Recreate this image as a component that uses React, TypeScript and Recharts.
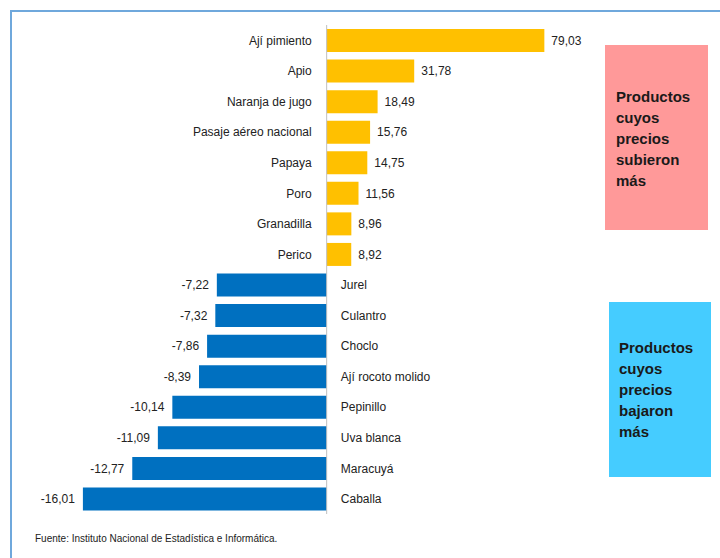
import { BarChart, Bar, XAxis, YAxis, LabelList, ReferenceLine } from 'recharts';

const categories = [
  'Ají pimiento', 'Apio', 'Naranja de jugo', 'Pasaje aéreo nacional', 'Papaya', 'Poro',
  'Granadilla', 'Perico', 'Jurel', 'Culantro', 'Choclo', 'Ají rocoto molido',
  'Pepinillo', 'Uva blanca', 'Maracuyá', 'Caballa',
];
const variations = [
  79.03, 31.78, 18.49, 15.76, 14.75, 11.56, 8.96, 8.92,
  -7.22, -7.32, -7.86, -8.39, -10.14, -11.09, -12.77, -16.01,
];
// the rises and falls sit on two separate scales, as in the source
const upDomain = [-118.6, 142.8];
const downDomain = [-21.45, 25.8];

const data = categories.map((name, i) => ({
  name,
  up: variations[i] > 0 ? variations[i] : null,
  down: variations[i] < 0 ? variations[i] : null,
}));

const NARROW = '"Liberation Sans Narrow", "Arial Narrow", "Liberation Sans", sans-serif';
const fmt = (v: number) => v.toFixed(2).replace('.', ',');

function makeLabel(sign: 1 | -1) {
  return (props: any) => {
    const name = props.value as string;
    const v = variations[categories.indexOf(name)];
    if (v === undefined || Math.sign(v) !== sign) return null;
    const vb = props.viewBox && props.viewBox.x != null ? props.viewBox : props;
    const left = Math.min(vb.x, vb.x + vb.width);
    const right = Math.max(vb.x, vb.x + vb.width);
    const cy = vb.y + vb.height / 2;
    const zero = sign > 0 ? left : right;
    return (
      <g fontFamily={NARROW} fontSize={12} fill="#222">
        <text x={sign > 0 ? zero - 15 : zero + 14} y={cy} dy="0.35em" textAnchor={sign > 0 ? 'end' : 'start'}>
          {name}
        </text>
        <text x={sign > 0 ? right + 7 : left - 8} y={cy} dy="0.35em" textAnchor={sign > 0 ? 'start' : 'end'}>
          {fmt(v)}
        </text>
      </g>
    );
  };
}

const boxText: React.CSSProperties = {
  position: 'absolute',
  boxSizing: 'border-box',
  fontFamily: '"Liberation Sans", Arial, sans-serif',
  fontWeight: 'bold',
  fontSize: 15,
  lineHeight: '21px',
  color: '#1a1a1a',
};

export default function App() {
  return (
    <div style={{ position: 'relative', width: 720, height: 558, overflow: 'hidden', background: '#fff' }}>
      <style>{'body{margin:0}'}</style>
      <div style={{ position: 'absolute', left: 10, top: 10, width: 740, height: 580, borderTop: '2px solid #6FA8DC', borderLeft: '2px solid #6FA8DC' }} />
      <div style={{ position: 'absolute', left: 0, top: 0 }}>
        <BarChart width={720} height={558} data={data} layout="vertical"
          margin={{ top: 25, right: 0, bottom: 44, left: 0 }}>
          <XAxis xAxisId="up" type="number" domain={upDomain} hide allowDataOverflow />
          <XAxis xAxisId="down" type="number" domain={downDomain} hide allowDataOverflow />
          <YAxis yAxisId="up" type="category" dataKey="name" hide />
          <YAxis yAxisId="down" type="category" dataKey="name" hide />
          <Bar xAxisId="up" yAxisId="up" dataKey="up" fill="#FFC000" barSize={23} isAnimationActive={false}>
            <LabelList dataKey="name" content={makeLabel(1)} />
          </Bar>
          <Bar xAxisId="down" yAxisId="down" dataKey="down" fill="#0070C0" barSize={23} isAnimationActive={false}>
            <LabelList dataKey="name" content={makeLabel(-1)} />
          </Bar>
          <ReferenceLine xAxisId="up" yAxisId="up" x={0} stroke="#BFBFBF" strokeWidth={1} />
        </BarChart>
      </div>
      <div style={{ ...boxText, left: 605, top: 45, width: 103, height: 185, background: '#FF9999', padding: '41px 0 0 11px' }}>
        Productos<br />cuyos<br />precios<br />subieron<br />más
      </div>
      <div style={{ ...boxText, left: 609, top: 302, width: 102, height: 175, background: '#45CCFF', padding: '35px 0 0 10px' }}>
        Productos<br />cuyos<br />precios<br />bajaron<br />más
      </div>
      <div style={{ position: 'absolute', left: 35, top: 533, fontFamily: NARROW, fontSize: 10, color: '#222', whiteSpace: 'nowrap' }}>
        Fuente: Instituto Nacional de Estadística e Informática.
      </div>
    </div>
  );
}
